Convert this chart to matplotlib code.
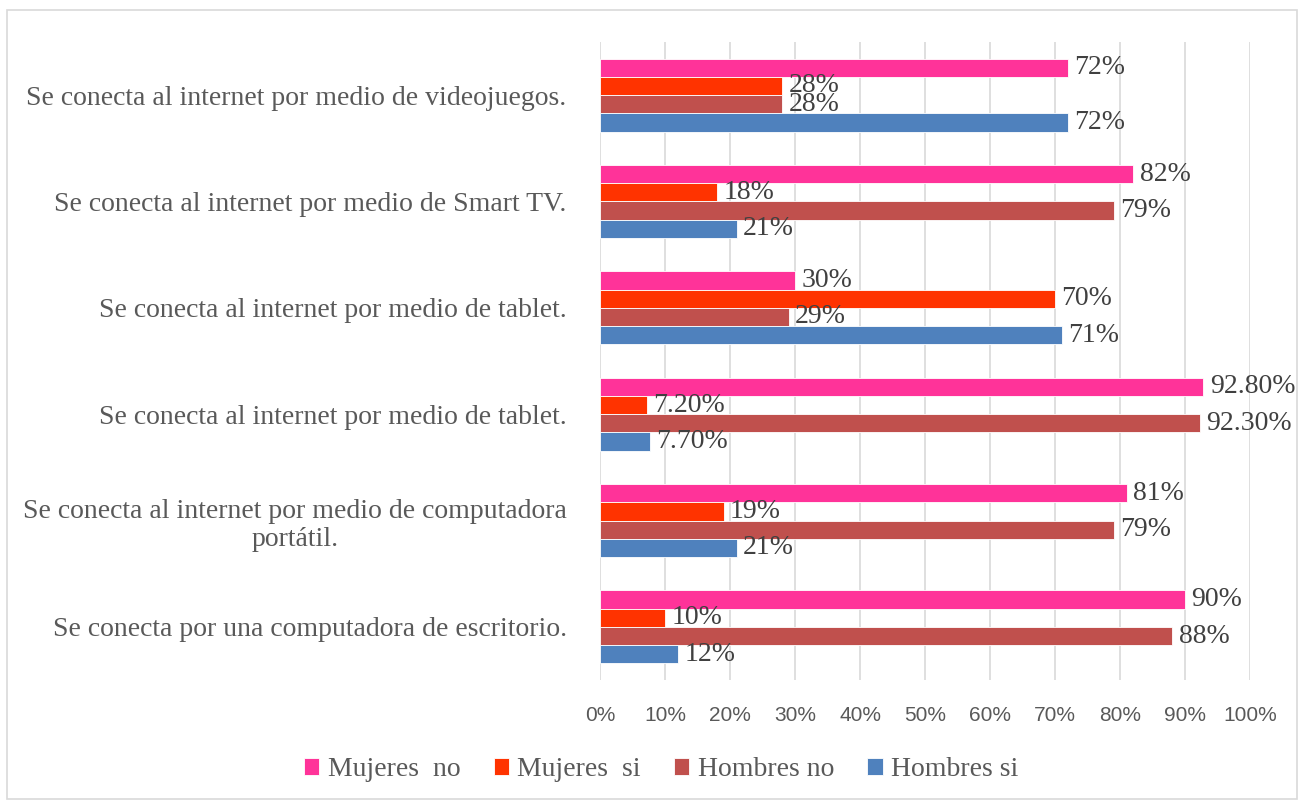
import numpy as np
import matplotlib.pyplot as plt
from matplotlib.patches import Rectangle

categories = [
    'Se conecta al internet por medio de videojuegos.',
    'Se conecta al internet por medio de Smart TV.',
    'Se conecta al internet por medio de tablet.',
    'Se conecta al internet por medio de tablet.',
    'Se conecta al internet por medio de computadora\nportátil.',
    'Se conecta por una computadora de escritorio.',
]
mujeres_no = [72, 82, 30, 92.8, 81, 90]
mujeres_si = [28, 18, 70, 7.2, 19, 10]
hombres_no = [28, 79, 29, 92.3, 79, 88]
hombres_si = [72, 21, 71, 7.7, 21, 12]
labels_mno = ['72%', '82%', '30%', '92.80%', '81%', '90%']
labels_msi = ['28%', '18%', '70%', '7.20%', '19%', '10%']
labels_hno = ['28%', '79%', '29%', '92.30%', '79%', '88%']
labels_hsi = ['72%', '21%', '71%', '7.70%', '21%', '12%']

series = [
    ('Mujeres  no', mujeres_no, labels_mno, '#FF3399'),
    ('Mujeres  si', mujeres_si, labels_msi, '#FF3300'),
    ('Hombres no', hombres_no, labels_hno, '#C0504D'),
    ('Hombres si', hombres_si, labels_hsi, '#4F81BD'),
]

serif = 'Liberation Serif'
sans = 'Liberation Sans'

fig = plt.figure(figsize=(12.99, 8.01), dpi=100)
fig.patches.append(Rectangle((0.0055, 0.002), 0.993, 0.985, transform=fig.transFigure,
                             fill=False, edgecolor='#D9D9D9', linewidth=1.2))
ax = fig.add_axes([0.4619, 0.151, 0.5004, 0.7966])

y = np.arange(len(categories))
h = 0.172
for i, (name, vals, labs, col) in enumerate(series):
    pos = y + (i - 1.5) * h
    ax.barh(pos, vals, height=h, color=col, edgecolor='white', linewidth=0.6, label=name, zorder=3)
    for p, v, t in zip(pos, vals, labs):
        ax.text(v + 1.0, p, t, va='center', ha='left', fontsize=20, family=serif,
                color='#404040', zorder=4)

ax.set_xlim(0, 100)
ax.set_ylim(len(categories) - 0.5, -0.5)
ax.set_xticks(np.arange(0, 101, 10))
ax.set_xticklabels([f'{v}%' for v in range(0, 101, 10)], family=sans, fontsize=15, color='#595959')
ax.set_yticks(y)
ax.set_yticklabels(categories, family=serif, fontsize=20, color='#595959', multialignment='center')
ax.tick_params(axis='both', length=0)
ax.tick_params(axis='y', pad=24)
ax.tick_params(axis='x', pad=19)
ax.grid(axis='x', color='#D9D9D9', linewidth=1.2, zorder=0)
for s in ax.spines.values():
    s.set_visible(False)

leg = fig.legend(loc='center', bbox_to_anchor=(0.509, 0.039), ncol=4, frameon=False,
                 prop={'family': serif, 'size': 20}, handlelength=0.55, handleheight=0.55,
                 handletextpad=0.3, columnspacing=1.2)
for t in leg.get_texts():
    t.set_color('#595959')

fig.savefig('out.png', dpi=100)
